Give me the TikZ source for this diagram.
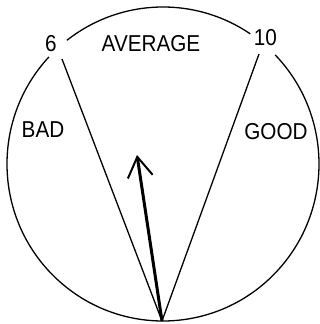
\documentclass[tikz,border=0pt]{standalone}
\usepackage{fontspec}
\setmainfont{Liberation Sans}
\newfontfamily\lblfont[FakeStretch=0.9]{Liberation Sans}
\usetikzlibrary{arrows.meta}
\begin{document}
\begin{tikzpicture}[x=1pt,y=1pt,
  lbl/.style={font=\lblfont\fontsize{23}{23}\selectfont, inner sep=0pt},
  thinline/.style={line width=1.3pt},
]
\useasboundingbox (0,0) rectangle (320,324);
\coordinate (c) at (163,160);
% labels
\node[lbl] (six) at (51,280) {6};
\node[lbl] (ten) at (265.5,286) {10};
\node[lbl] (avg) at (151,280.5) {AVERAGE};
\node[lbl] (bad) at (43,194) {BAD};
\node[lbl] (good) at (276,192.5) {GOOD};
% rim
\draw[thinline] (c) ++(137:156 and 157) arc[start angle=137,end angle=404,x radius=156,y radius=157];
\draw[thinline] (c) ++(56:156 and 157) arc[start angle=56,end angle=128,x radius=156,y radius=157];
% sector lines
\coordinate (p6) at (62,265);
\coordinate (p10) at (259,270);
\coordinate (bot) at (162,3);
\coordinate (tip) at (137,169);
\draw[thinline] (p6) -- (bot);
\draw[thinline] (p10) -- (bot);
% needle
\draw[line width=3pt, -{Straight Barb[length=20pt,width=25pt,line width=2pt]}] (bot) -- (tip);
\end{tikzpicture}
\end{document}
